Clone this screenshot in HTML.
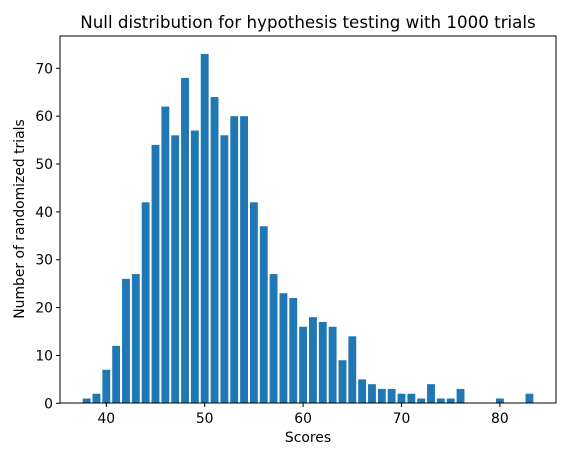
<!DOCTYPE html>
<html><head><meta charset="utf-8"><style>
body{margin:0;background:#fff;}
text{font-family:"DejaVu Sans","Liberation Sans",sans-serif;fill:#000;}
</style></head><body>
<svg id="c" width="578" height="446" xmlns="http://www.w3.org/2000/svg"></svg>
<script>
const categories=[38,39,40,41,42,43,44,45,46,47,48,49,50,51,52,53,54,55,56,57,58,59,60,61,62,63,64,65,66,67,68,69,70,71,72,73,74,75,76,80,83];
const counts=[1,2,7,12,26,27,42,54,62,56,68,57,73,64,56,60,60,42,37,27,23,22,16,18,17,16,9,14,5,4,3,3,2,2,1,4,1,1,3,1,2];
const xTicks=[40,50,60,70,80];
const yTicks=[0,10,20,30,40,50,60,70];
const svg=document.getElementById('c');
const NS='http://www.w3.org/2000/svg';
const L=60,R=556,T=36,B=403;
const xs=v=>106.3+(v-40)*9.84;
const ys=v=>403.3-v*(335/70);
function mk(tag,attrs,parent){const e=document.createElementNS(NS,tag);for(const k in attrs)e.setAttribute(k,attrs[k]);(parent||svg).appendChild(e);return e;}
const bars=mk('g',{});


categories.forEach((c,i)=>{
 const x0=xs(c-0.4),x1=xs(c+0.4),y=ys(counts[i]);
 const r=mk('rect',{x:x0,y:y,width:x1-x0,height:403.3-y,fill:'#1f77b4'},bars);
 
 
});
const frame=mk('rect',{x:L,y:T,width:R-L,height:B-T,fill:'none',stroke:'#000','stroke-width':1});


xTicks.forEach(t=>{
 const x=xs(t);
 mk('line',{x1:x,x2:x,y1:B,y2:B+4,stroke:'#000'});
 const tx=mk('text',{x:x,y:B+20,'text-anchor':'middle','font-size':13.9});
 tx.textContent=t;
 
 
});
yTicks.forEach(t=>{
 const y=ys(t);
 mk('line',{x1:L-4,x2:L,y1:y,y2:y,stroke:'#000'});
 const tx=mk('text',{x:L-7,y:y+5,'text-anchor':'end','font-size':13.9});
 tx.textContent=t;
 
 
});
const title=mk('text',{x:308,y:28,'text-anchor':'middle','font-size':16.7});
title.textContent='Null distribution for hypothesis testing with 1000 trials';


const xl=mk('text',{x:308,y:442,'text-anchor':'middle','font-size':13.9});
xl.textContent='Scores';


const yl=mk('text',{x:0,y:0,'text-anchor':'middle','font-size':13.9,transform:'translate(24,219) rotate(-90)'});
yl.textContent='Number of randomized trials';


</script>
</body></html>
